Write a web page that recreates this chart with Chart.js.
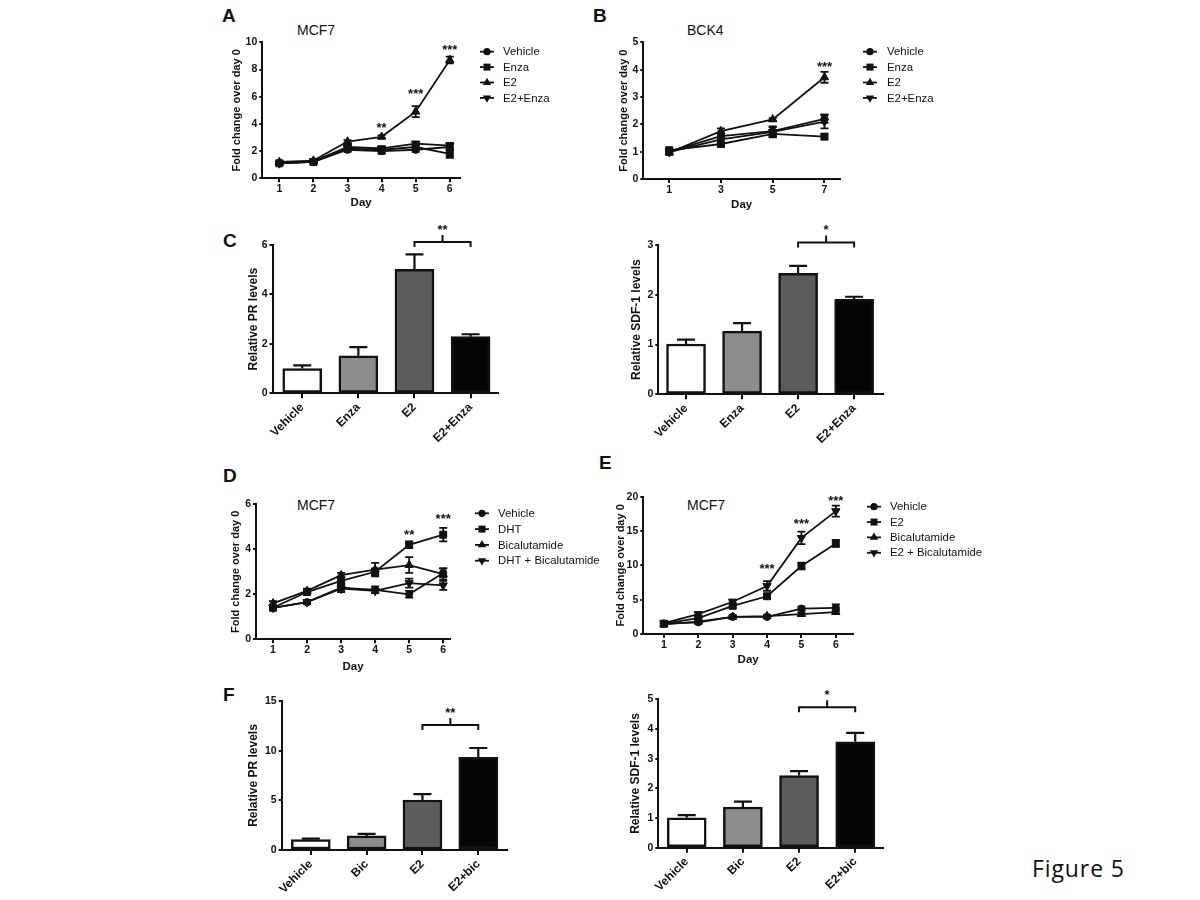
<!DOCTYPE html>
<html>
<head>
<meta charset="utf-8">
<title>Figure 5</title>
<script src="https://cdn.jsdelivr.net/npm/chart.js@4.4.1/dist/chart.umd.min.js"></script>
<style>
    body { margin: 0; background: #fff; }
    #page { position: relative; width: 1200px; height: 900px; overflow: hidden; font-family: "Liberation Sans", Arial, sans-serif; color: #111; }
    #page canvas { position: absolute; }
    .letter { position: absolute; font-size: 19px; line-height: 19px; font-weight: bold; }
    .cell { position: absolute; font-size: 14px; line-height: 14px; }
    #figure { position: absolute; left: 1032px; top: 857px; font-family: "Open Sans", sans-serif; font-size: 23px; line-height: 23px; letter-spacing: 0.9px; }
</style>
</head>
<body>
<div id="page">
    <div class="letter" style="left:222px;top:6px">A</div>
    <div class="letter" style="left:593px;top:6px">B</div>
    <div class="letter" style="left:223px;top:231px">C</div>
    <div class="letter" style="left:223px;top:466px">D</div>
    <div class="letter" style="left:599px;top:453px">E</div>
    <div class="letter" style="left:223px;top:685px">F</div>
    <div class="cell" style="left:297px;top:23px">MCF7</div>
    <div class="cell" style="left:687px;top:23px">BCK4</div>
    <div class="cell" style="left:297px;top:498px">MCF7</div>
    <div class="cell" style="left:687px;top:498px">MCF7</div>
    <div id="figure">Figure 5</div>
</div>

<script>
Chart.defaults.font.family = '"Liberation Sans", Arial, sans-serif';
Chart.defaults.color = "#111";
const INK = "#111";

// Panel A - MCF7 growth, enzalutamide
const daysA = [1, 2, 3, 4, 5, 6];
const vehicleA = [1.1, 1.2, 2.1, 2.0, 2.1, 2.3];
const vehicleErrA = [0.1, 0.1, 0.15, 0.2, 0.15, 0.2];
const enzaA = [1.1, 1.2, 2.2, 2.1, 2.3, 1.8];
const enzaErrA = [0.1, 0.1, 0.15, 0.15, 0.15, 0.3];
const e2A = [1.2, 1.3, 2.7, 3.05, 4.9, 8.7];
const e2ErrA = [0.1, 0.1, 0.1, 0.1, 0.4, 0.25];
const e2EnzaA = [1.1, 1.25, 2.3, 2.2, 2.55, 2.4];
const e2EnzaErrA = [0.1, 0.1, 0.15, 0.15, 0.15, 0.2];
const starDaysA = [4, 5, 6];
const starLevelsA = [3.96, 6.47, 9.7];
const starTextA = ["**", "***", "***"];

// Panel B - BCK4 growth
const daysB = [1, 3, 5, 7];
const vehicleB = [1.0, 1.57, 1.75, 2.2];
const vehicleErrB = [0.1, 0.1, 0.15, 0.15];
const enzaB = [1.05, 1.28, 1.65, 1.55];
const enzaErrB = [0.1, 0.08, 0.1, 0.1];
const e2B = [0.97, 1.75, 2.18, 3.72];
const e2ErrB = [0.08, 0.1, 0.05, 0.2];
const e2EnzaB = [0.98, 1.45, 1.72, 2.1];
const e2EnzaErrB = [0.08, 0.1, 0.2, 0.25];
const starDaysB = [7];
const starLevelsB = [4.21];
const starTextB = ["***"];

// Panel C - PR and SDF-1 with enzalutamide
const groupsC = ["Vehicle", "Enza", "E2", "E2+Enza"];
const prC = [1.0, 1.52, 5.02, 2.29];
const prErrC = [0.13, 0.35, 0.6, 0.1];
const sdfC = [1.01, 1.27, 2.43, 1.91];
const sdfErrC = [0.09, 0.16, 0.15, 0.05];

// Panel D - MCF7 growth, DHT and bicalutamide
const daysD = [1, 2, 3, 4, 5, 6];
const vehicleD = [1.4, 1.65, 2.3, 2.2, 2.0, 2.95];
const vehicleErrD = [0.1, 0.08, 0.15, 0.15, 0.15, 0.2];
const dhtD = [1.4, 2.1, 2.6, 3.0, 4.2, 4.65];
const dhtErrD = [0.1, 0.1, 0.15, 0.15, 0.15, 0.3];
const bicD = [1.6, 2.15, 2.85, 3.1, 3.3, 2.9];
const bicErrD = [0.1, 0.1, 0.1, 0.3, 0.35, 0.25];
const dhtBicD = [1.4, 1.65, 2.25, 2.15, 2.5, 2.4];
const dhtBicErrD = [0.1, 0.08, 0.15, 0.1, 0.2, 0.2];
const starDaysD = [5, 6];
const starLevelsD = [4.78, 5.52];
const starTextD = ["**", "***"];

// Panel E - MCF7 growth, E2 and bicalutamide
const daysE = [1, 2, 3, 4, 5, 6];
const vehicleE = [1.5, 1.7, 2.5, 2.5, 3.7, 3.8];
const vehicleErrE = [0.2, 0.2, 0.2, 0.2, 0.3, 0.5];
const e2E = [1.5, 2.3, 4.1, 5.5, 9.9, 13.2];
const e2ErrE = [0.2, 0.2, 0.3, 0.3, 0.5, 0.5];
const bicE = [1.4, 1.8, 2.5, 2.6, 2.9, 3.2];
const bicErrE = [0.2, 0.2, 0.2, 0.2, 0.2, 0.3];
const e2BicE = [1.6, 2.9, 4.7, 7.0, 14.0, 17.9];
const e2BicErrE = [0.2, 0.3, 0.3, 0.7, 0.9, 0.8];
const starDaysE = [4, 5, 6];
const starLevelsE = [9.98, 16.5, 19.9];
const starTextE = ["***", "***", "***"];

// Panel F - PR and SDF-1 with bicalutamide
const groupsF = ["Vehicle", "Bic", "E2", "E2+bic"];
const prF = [1.05, 1.42, 5.03, 9.33];
const prErrF = [0.1, 0.2, 0.6, 0.94];
const sdfF = [1.01, 1.37, 2.43, 3.57];
const sdfErrF = [0.09, 0.18, 0.15, 0.3];

// significance brackets: [from group, to group, level, text]
const bracketCpr = [2, 3, 6.12, "**"];
const bracketCsdf = [2, 3, 3.05, "*"];
const bracketFpr = [2, 3, 12.58, "**"];
const bracketFsdf = [2, 3, 4.73, "*"];

const barColors = ["#ffffff", "#8c8c8c", "#5c5c5c", "#050505"];

// Chart.js point style for each GraphPad symbol
const SYMBOLS = {
    circle: { style: "circle", radius: 3.6, rotation: 0 },
    square: { style: "rect", radius: 4.9, rotation: 0 },
    up: { style: "triangle", radius: 4.8, rotation: 0 },
    down: { style: "triangle", radius: 4.8, rotation: 180 }
};

function drawMarker(ctx, shape, x, y) {
    ctx.beginPath();
    if (shape === "circle") {
        ctx.arc(x, y, 3.6, 0, Math.PI * 2);
    } else if (shape === "square") {
        ctx.rect(x - 3.5, y - 3.5, 7, 7);
    } else {
        const s = shape === "up" ? 1 : -1;
        ctx.moveTo(x, y - 4.8 * s);
        ctx.lineTo(x + 4.2, y + 2.4 * s);
        ctx.lineTo(x - 4.2, y + 2.4 * s);
        ctx.closePath();
    }
    ctx.fill();
}

// Error bars (both ways on lines, upward only on bars)
const errBars = {
    id: "errBars",
    beforeDatasetsDraw(chart, args, opts) {
        const { ctx } = chart;
        const y = chart.scales.y;
        ctx.save();
        ctx.strokeStyle = INK;
        ctx.lineWidth = opts.width;
        chart.data.datasets.forEach((ds, di) => {
            if (!ds.errors) return;
            chart.getDatasetMeta(di).data.forEach((pt, i) => {
                const v = ds.data[i].y;
                const e = ds.errors[i];
                const top = y.getPixelForValue(v + e);
                const bot = opts.upOnly ? y.getPixelForValue(v) : y.getPixelForValue(v - e);
                ctx.beginPath();
                ctx.moveTo(pt.x, bot);
                ctx.lineTo(pt.x, top);
                ctx.moveTo(pt.x - opts.cap, top);
                ctx.lineTo(pt.x + opts.cap, top);
                if (!opts.upOnly) {
                    ctx.moveTo(pt.x - opts.cap, bot);
                    ctx.lineTo(pt.x + opts.cap, bot);
                }
                ctx.stroke();
            });
        });
        ctx.restore();
    }
};

// Legend with line + symbol, placed at page coordinates
const keyLegend = {
    id: "keyLegend",
    afterDraw(chart, args, opts) {
        if (!opts.x) return;
        const { ctx } = chart;
        const ox = chart.canvas.offsetLeft, oy = chart.canvas.offsetTop;
        ctx.save();
        ctx.font = '11.4px "Liberation Sans", Arial, sans-serif';
        ctx.textBaseline = "middle";
        ctx.textAlign = "left";
        ctx.fillStyle = INK;
        ctx.strokeStyle = INK;
        ctx.lineWidth = 1.8;
        chart.data.datasets.forEach((ds, i) => {
            const x = opts.x - ox;
            const y = opts.y + i * opts.dy - oy;
            ctx.beginPath();
            ctx.moveTo(x - 7, y);
            ctx.lineTo(x + 7, y);
            ctx.stroke();
            drawMarker(ctx, ds.shape, x, y);
            ctx.fillText(ds.label, opts.textX - ox, y + 0.5);
        });
        ctx.restore();
    }
};

// Asterisks and significance brackets
const marks = {
    id: "marks",
    afterDraw(chart, args, opts) {
        const { ctx } = chart;
        const x = chart.scales.x, y = chart.scales.y;
        ctx.save();
        ctx.fillStyle = INK;
        ctx.strokeStyle = INK;
        ctx.lineWidth = 2;
        ctx.font = 'bold 13px "Liberation Sans", Arial, sans-serif';
        ctx.textAlign = "center";
        ctx.textBaseline = "alphabetic";
        const stars = opts.stars || [[], [], []];
        stars[0].forEach((d, i) => {
            ctx.fillText(stars[2][i], x.getPixelForValue(d), y.getPixelForValue(stars[1][i]) + 7.5);
        });
        if (opts.bracket) {
            const [from, to, level, text] = opts.bracket;
            const x1 = x.getPixelForValue(from), x2 = x.getPixelForValue(to);
            const yy = y.getPixelForValue(level);
            const xm = (x1 + x2) / 2;
            ctx.beginPath();
            ctx.moveTo(x1, yy + 5);
            ctx.lineTo(x1, yy);
            ctx.lineTo(x2, yy);
            ctx.lineTo(x2, yy + 5);
            ctx.moveTo(xm, yy);
            ctx.lineTo(xm, yy - 7);
            ctx.stroke();
            ctx.fillText(text, xm, yy - 16 + 7.5);
        }
        ctx.restore();
    }
};

function axisY(title, max, step, width, titleSize) {
    return {
        min: 0,
        max: max,
        ticks: { stepSize: step, font: { size: 10.5, weight: "bold" }, padding: 2, color: INK },
        grid: { drawOnChartArea: false, tickLength: 3, color: INK, lineWidth: 2 },
        border: { color: INK, width: 2 },
        title: { display: true, text: title, font: { size: titleSize, weight: "bold" }, padding: 0, color: INK },
        afterFit: (s) => { s.width = width; }
    };
}

function axisDays(days, min, max, height) {
    return {
        type: "linear",
        min: min,
        max: max,
        afterBuildTicks: (s) => { s.ticks = days.map(d => ({ value: d })); },
        ticks: { font: { size: 10.5, weight: "bold" }, padding: 1, color: INK, autoSkip: false, maxRotation: 0 },
        grid: { drawOnChartArea: false, tickLength: 4, color: INK, lineWidth: 2 },
        border: { color: INK, width: 2 },
        title: { display: true, text: "Day", font: { size: 11.5, weight: "bold" }, padding: 0, color: INK },
        afterFit: (s) => { s.height = height; }
    };
}

function axisGroups(labels, min, max, height) {
    return {
        type: "linear",
        min: min,
        max: max,
        offset: false,
        afterBuildTicks: (s) => { s.ticks = labels.map((_, i) => ({ value: i })); },
        ticks: {
            callback: (v) => labels[v],
            font: { size: 12, weight: "bold" },
            minRotation: 45,
            maxRotation: 45,
            autoSkip: false,
            padding: 2,
            color: INK
        },
        grid: { offset: false, drawOnChartArea: false, tickLength: 5, color: INK, lineWidth: 2 },
        border: { color: INK, width: 2 },
        afterFit: (s) => { s.height = height; }
    };
}

// Put a canvas on the page so that the plot area lands on "area"
function makePanel(box, area, yW, xH, config) {
    const canvas = document.createElement("canvas");
    canvas.width = box.w;
    canvas.height = box.h;
    canvas.style.left = box.x + "px";
    canvas.style.top = box.y + "px";
    document.getElementById("page").appendChild(canvas);
    config.options.responsive = false;
    config.options.animation = false;
    config.options.layout = {
        padding: {
            left: area.l - box.x - yW,
            top: area.t - box.y,
            right: box.x + box.w - area.r,
            bottom: box.y + box.h - area.b - xH
        }
    };
    config.plugins = [errBars, keyLegend, marks];
    return new Chart(canvas.getContext("2d"), config);
}

function lineSeries(label, shape, days, values, errors) {
    const sym = SYMBOLS[shape];
    return {
        label: label,
        shape: shape,
        data: days.map((d, i) => ({ x: d, y: values[i] })),
        errors: errors,
        borderColor: INK,
        backgroundColor: INK,
        borderWidth: 1.8,
        pointStyle: sym.style,
        pointRadius: sym.radius,
        pointRotation: sym.rotation,
        pointBackgroundColor: INK,
        pointBorderColor: INK,
        pointBorderWidth: 1,
        tension: 0
    };
}

function linePanel(box, area, yW, xH, p) {
    return makePanel(box, area, yW, xH, {
        type: "line",
        data: { datasets: p.series },
        options: {
            plugins: {
                legend: { display: false },
                tooltip: { enabled: false },
                errBars: { cap: 4, upOnly: false, width: 1.8 },
                keyLegend: p.legend,
                marks: { stars: p.stars }
            },
            scales: {
                x: axisDays(p.days, p.xMin, p.xMax, xH),
                y: axisY("Fold change over day 0", p.yMax, p.yStep, yW, 11)
            }
        }
    });
}

function barPanel(box, area, yW, xH, p) {
    return makePanel(box, area, yW, xH, {
        type: "bar",
        data: {
            datasets: [{
                data: p.values.map((v, i) => ({ x: i, y: v })),
                errors: p.errors,
                backgroundColor: barColors,
                borderColor: INK,
                borderWidth: 2.5,
                borderSkipped: false,
                barThickness: 39
            }]
        },
        options: {
            plugins: {
                legend: { display: false },
                tooltip: { enabled: false },
                errBars: { cap: 9, upOnly: true, width: 2.2 },
                keyLegend: {},
                marks: { bracket: p.bracket }
            },
            scales: {
                x: axisGroups(p.groups, p.xMin, p.xMax, xH),
                y: axisY(p.title, p.yMax, p.yStep, yW, 12)
            }
        }
    });
}

// A
linePanel({ x: 220, y: 0, w: 370, h: 215 }, { l: 262.3, t: 42.3, r: 460, b: 178.3 }, 32.4, 31.8, {
    days: daysA, xMin: 0.5, xMax: 6.3, yMax: 10, yStep: 2,
    series: [
        lineSeries("Vehicle", "circle", daysA, vehicleA, vehicleErrA),
        lineSeries("Enza", "square", daysA, enzaA, enzaErrA),
        lineSeries("E2", "up", daysA, e2A, e2ErrA),
        lineSeries("E2+Enza", "down", daysA, e2EnzaA, e2EnzaErrA)
    ],
    legend: { x: 487, textX: 503, y: 51.7, dy: 15.4 },
    stars: [starDaysA, starLevelsA, starTextA]
});

// B
linePanel({ x: 595, y: 0, w: 400, h: 215 }, { l: 643.3, t: 42.3, r: 840, b: 179 }, 25.6, 32.3, {
    days: daysB, xMin: 0, xMax: 7.6, yMax: 5, yStep: 1,
    series: [
        lineSeries("Vehicle", "circle", daysB, vehicleB, vehicleErrB),
        lineSeries("Enza", "square", daysB, enzaB, enzaErrB),
        lineSeries("E2", "up", daysB, e2B, e2ErrB),
        lineSeries("E2+Enza", "down", daysB, e2EnzaB, e2EnzaErrB)
    ],
    legend: { x: 870, textX: 887, y: 51.7, dy: 15.4 },
    stars: [starDaysB, starLevelsB, starTextB]
});

// C (left: PR, right: SDF-1)
barPanel({ x: 220, y: 215, w: 370, h: 250 }, { l: 272.5, t: 245, r: 498.3, b: 393.3 }, 26, 60, {
    groups: groupsC, values: prC, errors: prErrC, xMin: -0.53, xMax: 3.494,
    title: "Relative PR levels", yMax: 6, yStep: 2, bracket: bracketCpr
});
barPanel({ x: 595, y: 215, w: 370, h: 250 }, { l: 658.3, t: 245, r: 882.7, b: 394.3 }, 28.8, 60, {
    groups: groupsC, values: sdfC, errors: sdfErrC, xMin: -0.495, xMax: 3.51,
    title: "Relative SDF-1 levels", yMax: 3, yStep: 1, bracket: bracketCsdf
});

// D
linePanel({ x: 220, y: 455, w: 400, h: 225 }, { l: 256, t: 504.3, r: 450, b: 639.3 }, 26.4, 34, {
    days: daysD, xMin: 0.5, xMax: 6.2, yMax: 6, yStep: 2,
    series: [
        lineSeries("Vehicle", "circle", daysD, vehicleD, vehicleErrD),
        lineSeries("DHT", "square", daysD, dhtD, dhtErrD),
        lineSeries("Bicalutamide", "up", daysD, bicD, bicErrD),
        lineSeries("DHT + Bicalutamide", "down", daysD, dhtBicD, dhtBicErrD)
    ],
    legend: { x: 482, textX: 498, y: 513.3, dy: 15.8 },
    stars: [starDaysD, starLevelsD, starTextD]
});

// E
linePanel({ x: 595, y: 455, w: 420, h: 225 }, { l: 643.3, t: 496.7, r: 853, b: 634 }, 28.7, 32.6, {
    days: daysE, xMin: 0.4, xMax: 6.5, yMax: 20, yStep: 5,
    series: [
        lineSeries("Vehicle", "circle", daysE, vehicleE, vehicleErrE),
        lineSeries("E2", "square", daysE, e2E, e2ErrE),
        lineSeries("Bicalutamide", "up", daysE, bicE, bicErrE),
        lineSeries("E2 + Bicalutamide", "down", daysE, e2BicE, e2BicErrE)
    ],
    legend: { x: 874, textX: 890, y: 506.7, dy: 15.35 },
    stars: [starDaysE, starLevelsE, starTextE]
});

// F (left: PR, right: SDF-1)
barPanel({ x: 220, y: 680, w: 370, h: 220 }, { l: 281.7, t: 701, r: 507.3, b: 850 }, 35.2, 48, {
    groups: groupsF, values: prF, errors: prErrF, xMin: -0.521, xMax: 3.52,
    title: "Relative PR levels", yMax: 15, yStep: 5, bracket: bracketFpr
});
barPanel({ x: 595, y: 680, w: 370, h: 220 }, { l: 658.3, t: 699.3, r: 883.3, b: 847.7 }, 29.8, 48, {
    groups: groupsF, values: sdfF, errors: sdfErrF, xMin: -0.506, xMax: 3.5,
    title: "Relative SDF-1 levels", yMax: 5, yStep: 1, bracket: bracketFsdf
});
</script>
</body>
</html>
